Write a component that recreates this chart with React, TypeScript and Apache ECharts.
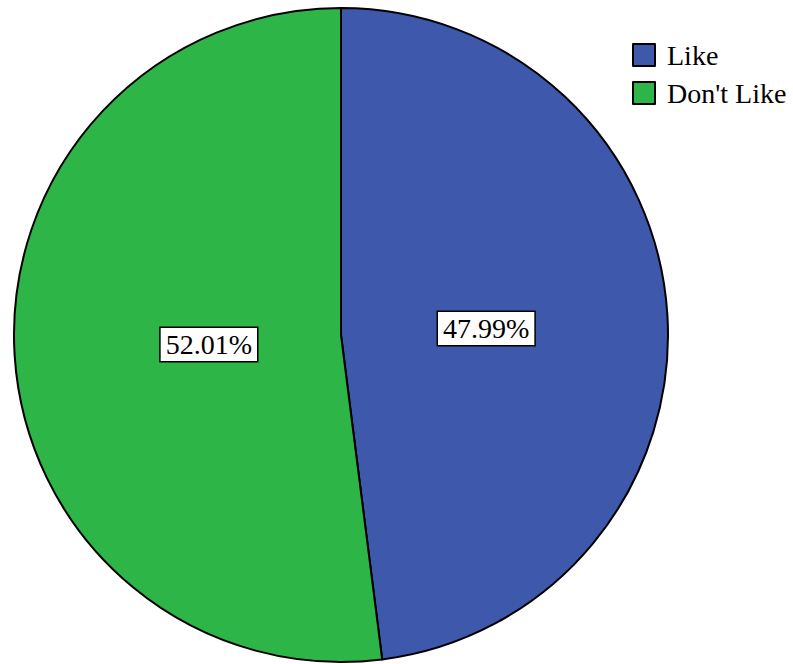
import React, { useEffect, useRef } from "react";
import * as echarts from "echarts";

const categories = ["Like", "Don't Like"];
const values = [47.99, 52.01];
const colors = ["#3E58AC", "#2EB548"];

export default function App() {
  const ref = useRef<HTMLDivElement>(null);
  useEffect(() => {
    if (!ref.current) return;
    const chart = echarts.init(ref.current, null, { renderer: "svg" });
    const labelShift = [
      [-21, 4],
      [34, -1],
    ];
    chart.setOption({
      animation: false,
      backgroundColor: "#ffffff",
      legend: {
        orient: "vertical",
        left: 632,
        top: 41,
        padding: 0,
        itemWidth: 22,
        itemHeight: 22,
        itemGap: 10,
        icon: "rect",
        data: categories,
        itemStyle: { borderColor: "#000", borderWidth: 2 },
        textStyle: {
          fontFamily: "'Liberation Serif', 'Times New Roman', serif",
          fontSize: 28,
          lineHeight: 23,
          color: "#000",
          padding: [0, 0, 0, 7],
        },
      },
      series: [
        {
          type: "pie",
          center: [341, 335],
          radius: 327,
          startAngle: 90,
          clockwise: true,
          silent: true,
          itemStyle: { borderColor: "#000", borderWidth: 2 },
          label: {
            show: true,
            position: "inside",
            formatter: (p: any) => p.value.toFixed(2) + "%",
            fontFamily: "'Liberation Serif', 'Times New Roman', serif",
            fontSize: 28,
            lineHeight: 29,
            color: "#000",
            backgroundColor: "#fff",
            borderColor: "#000",
            borderWidth: 1.5,
            padding: [3, 5, 1, 5],
          },
          labelLayout: (p: any) => ({
            dx: labelShift[p.dataIndex][0],
            dy: labelShift[p.dataIndex][1],
          }),
          data: categories.map((c, i) => ({
            name: c,
            value: values[i],
            itemStyle: { color: colors[i] },
          })),
        },
      ],
    });
    return () => chart.dispose();
  }, []);
  return (
    <div
      ref={ref}
      style={{ position: "fixed", left: 0, top: 0, width: 793, height: 664 }}
    />
  );
}
